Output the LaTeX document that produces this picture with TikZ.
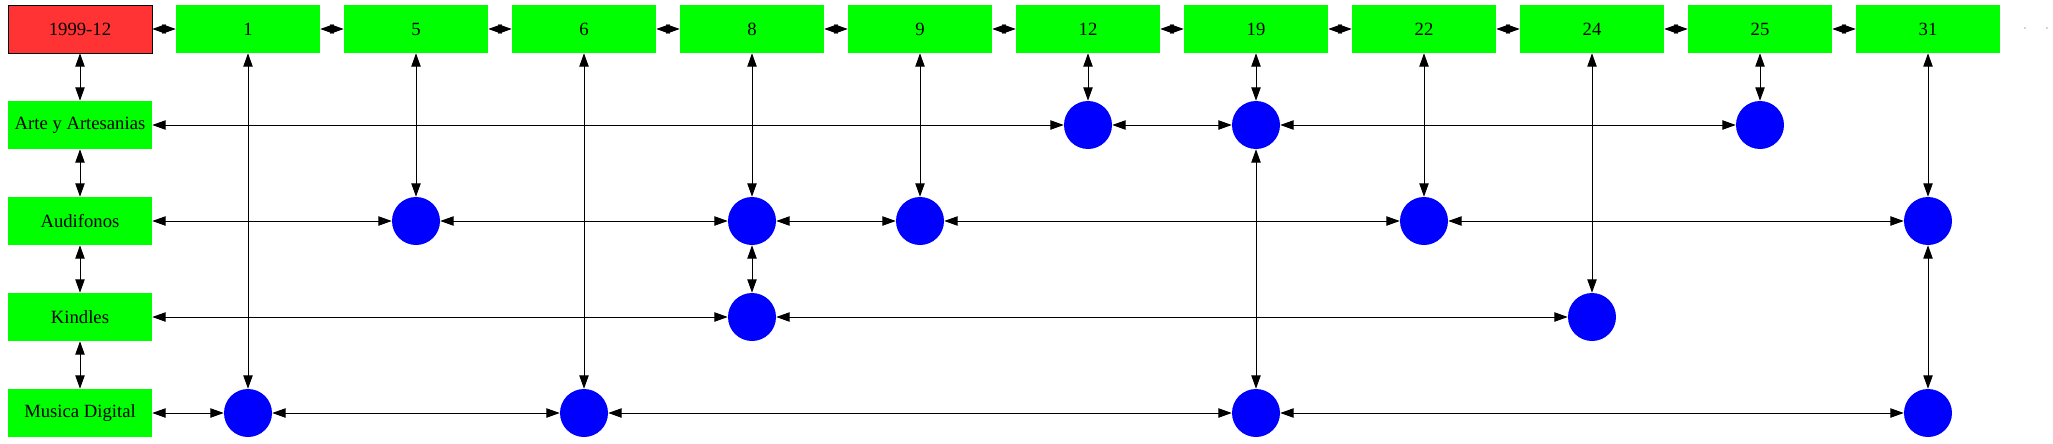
\documentclass[tikz,border=0pt]{standalone}
\usepackage{fontspec}
\setmainfont{Liberation Serif}
\usetikzlibrary{arrows.meta}
\definecolor{boxred}{HTML}{FF3333}
\definecolor{boxgreen}{HTML}{00FF00}
\definecolor{hitblue}{HTML}{0000FF}

\begin{document}
\begin{tikzpicture}[x=0.75pt,y=-0.75pt,
    cat/.style={fill=boxgreen,minimum width=108pt,minimum height=36pt,inner xsep=5pt,font=\fontsize{14}{16}\selectfont},
    hit/.style={circle,fill=hitblue,minimum size=36pt,inner sep=0pt},
    link/.style={{Triangle[length=10pt,width=7pt]}-{Triangle[length=10pt,width=7pt]},line width=0.75pt}]
  \useasboundingbox (0,0) rectangle (2053,443);
  % month and categories
  \node[cat,fill=boxred,draw=black] (m) at (80,29) {1999-12};
  \node[cat] (arte) at (80,125) {Arte y Artesanias};
  \node[cat] (aud) at (80,221) {Audifonos};
  \node[cat] (kin) at (80,317) {Kindles};
  \node[cat] (mus) at (80,413) {Musica Digital};
  % days
  \foreach \d/\x in {1/248,5/416,6/584,8/752,9/920,12/1088,19/1256,22/1424,24/1592,25/1760,31/1928}
    \node[cat] (d\d) at (\x,29) {\d};
  \node[text=gray!90!black,font=\small] (more) at (2036,29) {$\cdot\hspace{14pt}\cdot$};
  % sales
  \node[hit] (arte12) at (1088,125) {};
  \node[hit] (arte19) at (1256,125) {};
  \node[hit] (arte25) at (1760,125) {};
  \node[hit] (aud5) at (416,221) {};
  \node[hit] (aud8) at (752,221) {};
  \node[hit] (aud9) at (920,221) {};
  \node[hit] (aud22) at (1424,221) {};
  \node[hit] (aud31) at (1928,221) {};
  \node[hit] (kin8) at (752,317) {};
  \node[hit] (kin24) at (1592,317) {};
  \node[hit] (mus1) at (248,413) {};
  \node[hit] (mus6) at (584,413) {};
  \node[hit] (mus19) at (1256,413) {};
  \node[hit] (mus31) at (1928,413) {};
  \begin{scope}[link]
    \draw (m) -- (d1);
    \foreach \a/\b in {1/5,5/6,6/8,8/9,9/12,12/19,19/22,22/24,24/25,25/31}
      \draw (d\a) -- (d\b);
    \draw (m) -- (arte);
    \draw (arte) -- (aud);
    \draw (aud) -- (kin);
    \draw (kin) -- (mus);
    % columns
    \draw (d1) -- (mus1);
    \draw (d5) -- (aud5);
    \draw (d6) -- (mus6);
    \draw (d8) -- (aud8);
    \draw (aud8) -- (kin8);
    \draw (d9) -- (aud9);
    \draw (d12) -- (arte12);
    \draw (d19) -- (arte19);
    \draw (arte19) -- (mus19);
    \draw (d22) -- (aud22);
    \draw (d24) -- (kin24);
    \draw (d25) -- (arte25);
    \draw (d31) -- (aud31);
    \draw (aud31) -- (mus31);
    % rows
    \draw (arte) -- (arte12);
    \draw (arte12) -- (arte19);
    \draw (arte19) -- (arte25);
    \draw (aud) -- (aud5);
    \draw (aud5) -- (aud8);
    \draw (aud8) -- (aud9);
    \draw (aud9) -- (aud22);
    \draw (aud22) -- (aud31);
    \draw (kin) -- (kin8);
    \draw (kin8) -- (kin24);
    \draw (mus) -- (mus1);
    \draw (mus1) -- (mus6);
    \draw (mus6) -- (mus19);
    \draw (mus19) -- (mus31);
  \end{scope}
\end{tikzpicture}
\end{document}
